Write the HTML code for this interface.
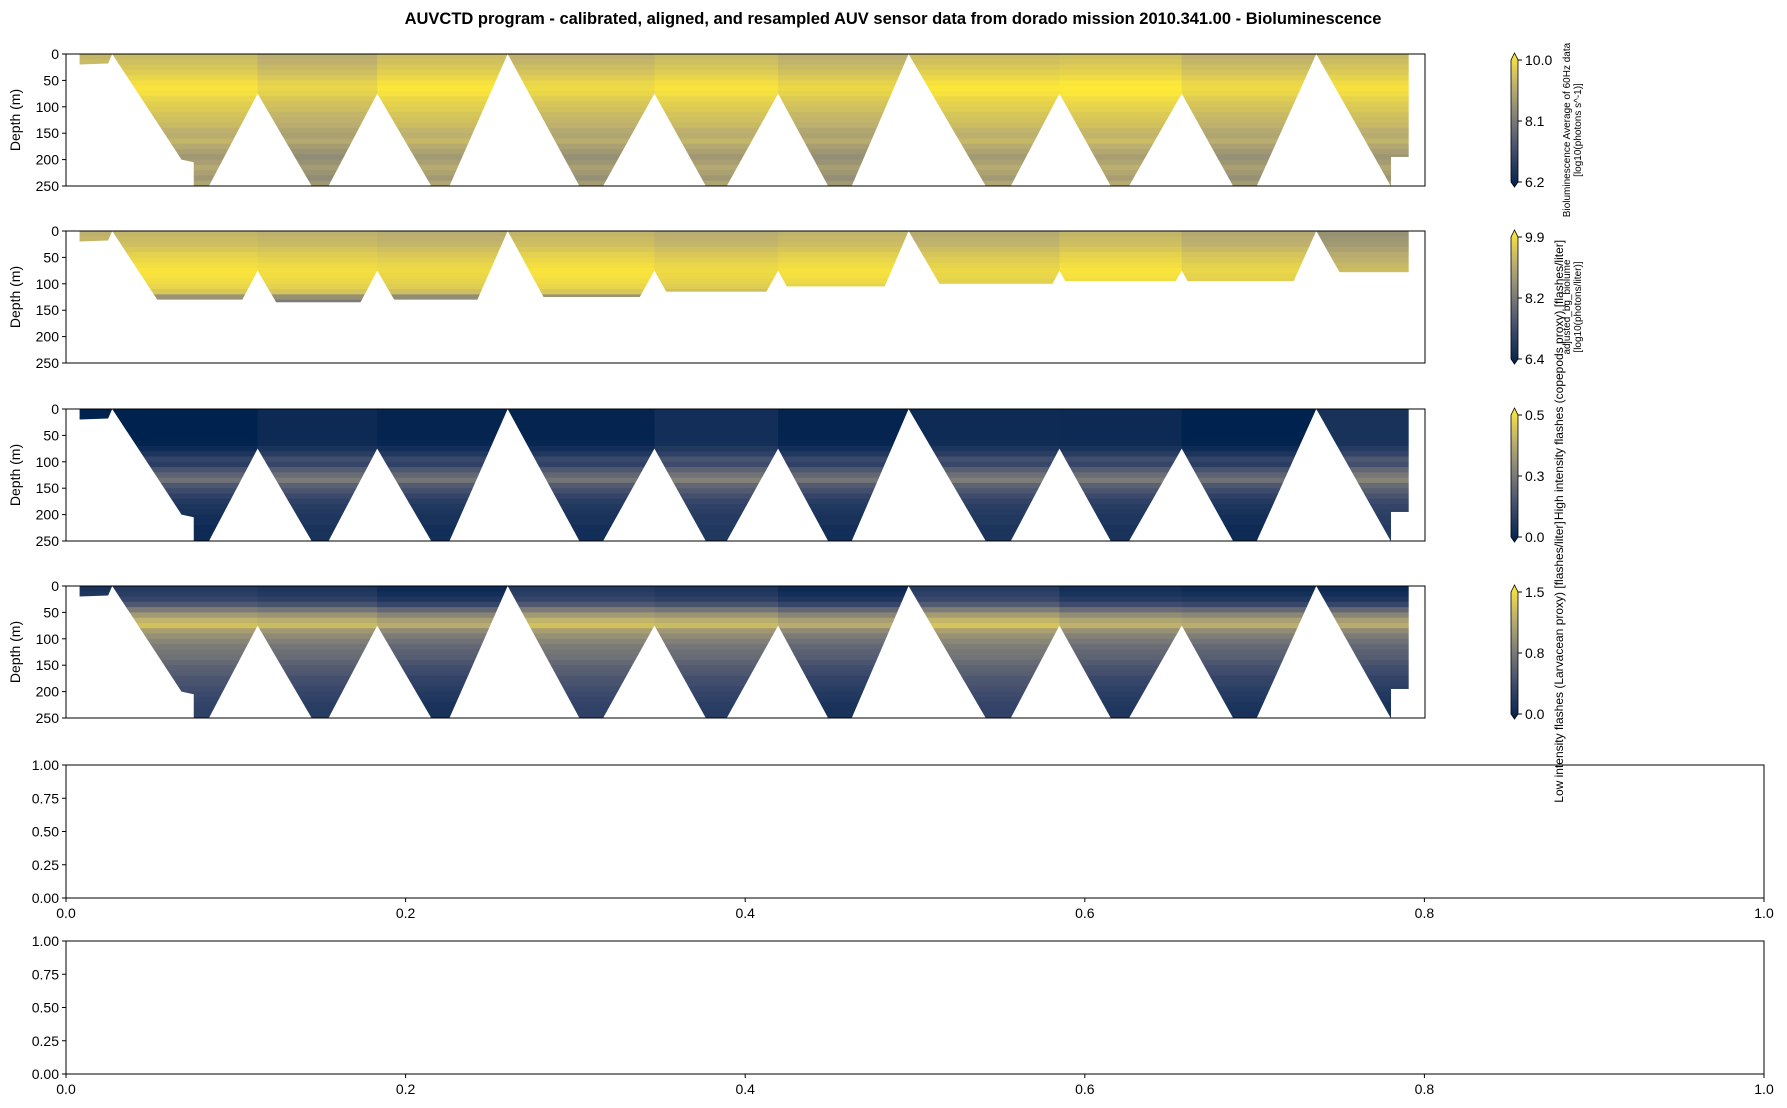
<!DOCTYPE html>
<html><head><meta charset="utf-8"><style>
body{margin:0;background:#fff}
svg{display:block;font-family:"Liberation Sans","DejaVu Sans",sans-serif}
</style></head><body>
<svg id="fig" width="1787" height="1108" viewBox="0 0 1787 1108">
<text x="893" y="24" text-anchor="middle" font-size="16.5" font-weight="bold">AUVCTD program - calibrated, aligned, and resampled AUV sensor data from dorado mission 2010.341.00 - Bioluminescence</text>
</svg>
<script>
// depth rows (10 m bins, 0-250 m) as colormap fraction 0..1
const rows1=[0.78,0.8,0.83,0.86,0.9,0.94,0.96,0.94,0.9,0.87,0.85,0.82,0.8,0.78,0.74,0.72,0.76,0.7,0.66,0.62,0.65,0.7,0.66,0.62,0.68];
const rows2=[0.76,0.78,0.8,0.84,0.88,0.91,0.94,0.96,0.95,0.93,0.9,0.84,0.6,0.5,0.5,0.5,0.5,0.5,0.5,0.5,0.5,0.5,0.5,0.5,0.5];
const rows3=[0.0,0.0,0.0,0.0,0.0,0.0,0.01,0.06,0.12,0.22,0.18,0.3,0.38,0.45,0.32,0.26,0.2,0.15,0.12,0.1,0.08,0.08,0.06,0.06,0.06];
const rows4=[0.1,0.13,0.18,0.28,0.45,0.6,0.72,0.78,0.62,0.55,0.5,0.45,0.42,0.4,0.36,0.32,0.3,0.26,0.25,0.22,0.2,0.18,0.16,0.15,0.15];
// segment offsets between turnaround apexes
const segEdges=[0,0.034,0.141,0.229,0.325,0.433,0.524,0.620,0.731,0.821,0.920,1.0];
const off1=[0,0.02,-0.04,0.03,-0.02,0.02,-0.03,0.03,0.05,-0.02,0.01];
const off2=[0,0.02,0,-0.02,0.02,-0.02,0.01,-0.03,0.02,-0.04,-0.15];
const off3=[0,0.0,0.05,0.02,0.02,0.08,0.02,0.06,0.05,0.0,0.1];
const off4=[0,0.05,0.02,-0.05,0.05,0.02,-0.05,0.06,-0.02,-0.04,-0.05];
// vehicle profile triangles (time fraction base0, apex, base1, apex depth m)
const triBase0=[0.105,0.193,0.282,0.395,0.486,0.578,0.695,0.782,0.876];
const triApex=[0.141,0.229,0.325,0.433,0.524,0.620,0.731,0.821,0.920];
const triBase1=[0.181,0.269,0.378,0.471,0.561,0.677,0.769,0.859,0.975];
const triDepth=[75,75,0,75,75,0,75,75,0];
// panel 2 max data depth per segment
const bottom2=[20,130,135,130,125,115,105,100,95,95,78];
// colorbar ticks
const cbTicks=[["10.0","8.1","6.2"],["9.9","8.2","6.4"],["0.5","0.3","0.0"],["1.5","0.8","0.0"]];
const depthTicks=[0,50,100,150,200,250];
const unitTicks=["0.00","0.25","0.50","0.75","1.00"];
const xTicks=["0.0","0.2","0.4","0.6","0.8","1.0"];

const NS="http://www.w3.org/2000/svg";
const svg=document.getElementById('fig');
function mk(tag,attrs,parent){const e=document.createElementNS(NS,tag);for(const k in attrs)e.setAttribute(k,attrs[k]);(parent||svg).appendChild(e);return e;}
const stops=[[0,[0,34,78]],[0.25,[59,73,108]],[0.5,[124,123,120]],[0.75,[188,175,111]],[1,[254,232,56]]];
function cmap(v){v=Math.max(0,Math.min(1,v));for(let i=1;i<stops.length;i++){if(v<=stops[i][0]){const a=stops[i-1],b=stops[i],f=(v-a[0])/(b[0]-a[0]);const c=a[1].map((x,j)=>Math.round(x+(b[1][j]-x)*f));return `rgb(${c[0]},${c[1]},${c[2]})`;}}return 'rgb(254,232,56)';}

const panels=[{y:54,rows:rows1,off:off1},{y:231,rows:rows2,off:off2},{y:409,rows:rows3,off:off3},{y:586,rows:rows4,off:off4}];
const AX0=66,AX1=1425,AH=132;
const cbLabels=[["Bioluminescence Average of 60Hz data","[log10(photons s^-1)]"],["adjusted_bg_biolume","[log10(photons/liter)]"]];
panels.forEach((p,pi)=>{
  const g=mk('g',{});  
  const X=t=>AX0+t*(AX1-AX0), Y=d=>p.y+d/250*AH;
  const cid='clip'+pi; const cp=mk('clipPath',{id:cid},g); mk('rect',{x:AX0,y:p.y,width:AX1-AX0,height:AH},cp);
  const cg=mk('g',{'clip-path':`url(#${cid})`},g);
  for(let s=0;s<segEdges.length-1;s++){
    for(let r=0;r<p.rows.length;r++){
      const c=mk('rect',{x:X(segEdges[s]),y:Y(r*10),width:X(segEdges[s+1])-X(segEdges[s])+0.6,height:AH/25+0.6,fill:cmap(p.rows[r]+p.off[s])},cg);
      
      
    }
  }
  const m1=mk('polygon',{fill:'#fff',points:[[X(0),Y(0)],[X(0.01),Y(0)],[X(0.01),Y(20)],[X(0.031),Y(18)],[X(0.034),Y(0)],[X(0.085),Y(200)],[X(0.094),Y(205)],[X(0.094),Y(250)],[X(0),Y(251)]].map(q=>q.join(',')).join(' ')},cg);
  
  
  for(let i=0;i<triApex.length;i++){
    const t=mk('polygon',{fill:'#fff',points:`${X(triBase0[i])},${Y(251)} ${X(triApex[i])},${Y(triDepth[i])} ${X(triBase1[i])},${Y(251)}`},cg);
    
    
  }
  mk('rect',{x:X(0.975),y:Y(195),width:X(1)-X(0.975),height:Y(251)-Y(195),fill:'#fff'},cg);
  mk('rect',{x:X(0.988),y:Y(0),width:X(1)-X(0.988)+1,height:AH+1,fill:'#fff'},cg);
  if(pi===1){for(let s=0;s<bottom2.length;s++){mk('rect',{x:X(segEdges[s]),y:Y(bottom2[s]),width:X(segEdges[s+1])-X(segEdges[s])+0.6,height:AH,fill:'#fff'},cg);}}
  mk('rect',{x:AX0,y:p.y,width:AX1-AX0,height:AH,fill:'none',stroke:'#000','stroke-width':1},g);
  depthTicks.forEach(d=>{mk('line',{x1:AX0-4,x2:AX0,y1:Y(d),y2:Y(d),stroke:'#000'},g);const t=mk('text',{x:AX0-7,y:Y(d)+5,'text-anchor':'end','font-size':14},g);t.textContent=d;});
  const yl=mk('text',{transform:`translate(20,${p.y+AH/2}) rotate(-90)`,'text-anchor':'middle','font-size':14},g);yl.textContent='Depth (m)';
  
  const cb=mk('g',{},svg);  
  const gid='grad'+pi; const gr=mk('linearGradient',{id:gid,x1:0,y1:1,x2:0,y2:0},cb);
  for(let k=0;k<=10;k++)mk('stop',{offset:k/10,'stop-color':cmap(k/10)},gr);
  const bt=p.y+6,bb=p.y+AH-4;
  mk('polygon',{points:`1511,${bt} 1514.5,${p.y-1} 1518,${bt} 1518,${bb} 1514.5,${bb+5} 1511,${bb}`,fill:`url(#${gid})`,stroke:'#000','stroke-width':0.8},cb);
  cbTicks[pi].forEach((lab,k)=>{const yy=bt+k*(bb-bt)/2;mk('line',{x1:1518,x2:1522,y1:yy,y2:yy,stroke:'#000'},cb);const t=mk('text',{x:1525,y:yy+5,'font-size':14},cb);t.textContent=lab;});
  if(pi<2){cbLabels[pi].forEach((l,k)=>{const t=mk('text',{transform:`translate(${1570+k*11},${p.y+AH/2+10}) rotate(-90)`,'text-anchor':'middle','font-size':10},cb);t.textContent=l;});}
});
const l3=mk('text',{transform:'translate(1563,380) rotate(-90)','text-anchor':'middle','font-size':12});l3.textContent='High intensity flashes (copepods proxy) [flashes/liter]';

const l4=mk('text',{transform:'translate(1563,662) rotate(-90)','text-anchor':'middle','font-size':12});l4.textContent='Low intensity flashes (Larvacean proxy) [flashes/liter]';

[765,941].forEach((y0,i)=>{
  const g=mk('g',{});  
  const x0=66,x1=1764,h=133;
  mk('rect',{x:x0,y:y0,width:x1-x0,height:h,fill:'none',stroke:'#000'},g);
  unitTicks.forEach((l,k)=>{const yy=y0+h-k*h/4;mk('line',{x1:x0-4,x2:x0,y1:yy,y2:yy,stroke:'#000'},g);const t=mk('text',{x:x0-7,y:yy+5,'text-anchor':'end','font-size':14},g);t.textContent=l;});
  xTicks.forEach((l,k)=>{const xx=x0+k*(x1-x0)/5;mk('line',{x1:xx,x2:xx,y1:y0+h,y2:y0+h+4,stroke:'#000'},g);const t=mk('text',{x:xx,y:y0+h+20,'text-anchor':'middle','font-size':14},g);t.textContent=l;});
});
</script>
</body></html>
